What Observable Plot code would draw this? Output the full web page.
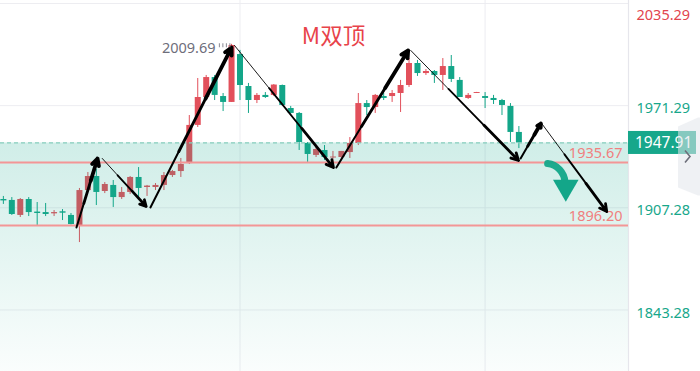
<!DOCTYPE html>
<html><head><meta charset="utf-8">
<script src="https://cdn.jsdelivr.net/npm/d3@7"></script>
<script src="https://cdn.jsdelivr.net/npm/@observablehq/plot@0.6"></script>
<style>
body{margin:0;background:#fff;}
#chart{width:700px;height:371px;}
</style></head><body><div id="chart"></div>
<script>
// ---- data ----
const opens  = [1912.5,1911.9,1902.5,1912.5,1904.6,1904.3,1903.5,1904.8,1902.5,1896.2,
                1918.1,1926.9,1917.5,1921.3,1913.7,1916.9,1926.3,1920.0,1920.0,1921.3,
                1927.5,1930.0,1935.0,1958.9,1976.4,1988.9,1977.0,1973.3,2003.3,1983.3,
                1974.5,1977.7,1977.7,1983.9,1969.5,1966.4,1947.6,1940.1,1943.2,1938.5,
                1938.8,1941.9,1947.6,1972.6,1970.1,1977.0,1977.0,1978.9,1983.9,1997.7,
                1991.4,1992.7,1990.2,1995.8,1987.1,1975.8,1978.9,1977.0,1975.8,1974.5,
                1970.8,1954.5];
const highs  = [1914.4,1913.7,1913.1,1913.7,1910.6,1910.0,1905.6,1906.2,1903.7,1919.4,
                1929.4,1931.3,1923.1,1924.4,1920.0,1926.9,1932.5,1921.3,1922.5,1929.4,
                1930.7,1938.2,1965.1,1988.3,1990.2,1990.2,1978.9,2009.69,2005.9,1985.2,
                1978.9,1979.5,1984.5,1984.2,1970.8,1967.0,1948.2,1945.1,1946.3,1942.6,
                1942.6,1951.3,1978.9,1974.5,1978.3,1978.9,1980.8,1987.1,2000.8,1999.6,
                1993.9,1993.3,2000.8,2002.7,1988.9,1978.9,1979.6,1979.5,1977.7,1975.2,
                1972.6,1958.2];
const lows   = [1909.4,1902.5,1901.2,1901.8,1896.2,1901.8,1901.8,1899.3,1896.5,1885.5,
                1917.5,1908.7,1916.2,1907.5,1912.5,1915.6,1913.7,1914.4,1918.1,1918.1,
                1926.3,1926.3,1934.4,1957.6,1975.2,1974.5,1967.6,1973.3,1974.5,1966.4,
                1972.6,1975.8,1977.0,1971.0,1966.0,1943.2,1935.7,1938.8,1936.9,1935.0,
                1936.9,1938.2,1946.3,1965.1,1966.4,1974.5,1973.3,1967.0,1982.7,1989.6,
                1990.2,1985.2,1980.8,1985.8,1976.4,1975.2,1978.9,1969.5,1972.0,1965.1,
                1948.2,1944.4];
const closes = [1911.6,1903.1,1912.5,1904.3,1903.7,1903.1,1904.3,1903.9,1896.8,1918.1,
                1926.9,1916.9,1921.9,1913.7,1916.9,1926.3,1919.4,1920.9,1921.3,1927.5,
                1930.0,1934.4,1958.9,1976.4,1988.9,1977.7,1973.3,2009.0,1983.9,1974.5,
                1977.7,1976.4,1984.2,1971.4,1966.4,1948.2,1940.7,1943.8,1938.8,1939.0,
                1942.6,1947.6,1972.6,1970.1,1977.7,1975.8,1978.9,1983.9,1997.7,1991.4,
                1992.7,1990.2,1995.8,1987.7,1976.4,1977.7,1979.4,1975.8,1974.5,1971.4,
                1954.5,1947.91];

const axisTicks = [2035.29, 1971.29, 1907.28, 1843.28];
const levels = [1935.67, 1896.20];
const current = 1947.91;
const peak = {i: 27, p: 2009.69, label: "2009.69"};
const gridCandles = [28, 57];
const title = "M双顶";

// hand-drawn pattern arrows
const arrowFromI = [8.65, 11.7, 17.4, 27.35, 39.4, 48.2, 61.2, 63.7];
const arrowFromP = [1894.9, 1938.2, 1907.5, 2009.0, 1932.5, 2005.9, 1938.2, 1960.1];
const arrowToI   = [11.14, 16.9, 27.0, 39.06, 47.9, 60.96, 63.6, 71.4];
const arrowToP   = [1938.2, 1908.1, 2007.7, 1932.5, 2005.9, 1936.9, 1960.1, 1904.9];
const arrowKind  = ["up","down","up","down","up","down","up","down"];
// curved "going down" marker: shaft start, shaft end, head centre
const turnArrow  = {i1: 64.4, p1: 1935.0, i2: 66.45, p2: 1923.5, hi: 66.55, hp: 1920.3};

const xDomain = [-0.34, 73.97];
const yDomain = [1804.72, 2037.17];

// ---- derived tables ----
const RED = "#e2505b", GREEN = "#13a689", TEAL = "#17a78b", SALMON = "#f39696";
const candles = opens.map((o, i) => ({i, o, h: highs[i], l: lows[i], c: closes[i]}));
const col = d => d.c >= d.o ? RED : GREEN;

const segs = [], heads = [];
arrowFromI.forEach((fi, k) => {
  const ax = fi, ay = arrowFromP[k], bx = arrowToI[k], by = arrowToP[k];
  const up = arrowKind[k] === "up";
  const w0 = up ? 2.0 : 0.9, w1 = up ? 3.8 : 2.8;
  const cuts = [0, 0.35, 0.68, 1];
  for (let s = 0; s < 3; s++) {
    const t0 = cuts[s], t1 = cuts[s + 1];
    const w = w0 + (w1 - w0) * (s / 2);
    const seg = {x1: ax + (bx - ax) * t0, y1: ay + (by - ay) * t0,
                 x2: ax + (bx - ax) * t1, y2: ay + (by - ay) * t1, w};
    if (s < 2) segs.push(seg); else heads.push(seg);
  }
});

const chart = Plot.plot({
  width: 700, height: 371,
  marginLeft: 0, marginRight: 72, marginTop: 0, marginBottom: 0,
  x: {type: "linear", domain: xDomain, axis: null},
  y: {domain: yDomain, axis: null},
  style: {fontFamily: "'Noto Sans', 'Noto Sans CJK SC', sans-serif", background: "#fff", overflow: "visible"},
  marks: [
    Plot.ruleY(axisTicks, {stroke: "#ededf1", strokeWidth: 1}),
    Plot.ruleX(gridCandles, {stroke: "#ededf1", strokeWidth: 1}),
    Plot.ruleX([xDomain[1]], {stroke: "#e6e6ec", strokeWidth: 1.2}),
    Plot.ruleX(candles, {x: "i", y1: "l", y2: "h", stroke: col, strokeWidth: 1}),
    Plot.ruleX(candles, {x: "i", y1: "o", y2: d => Math.abs(d.c - d.o) < 0.6 ? d.o + (d.c >= d.o ? 0.6 : -0.6) : d.c, stroke: col, strokeWidth: 6}),
    Plot.rect([0], {x1: () => xDomain[0], x2: () => xDomain[1], y1: () => yDomain[0], y2: () => current, fill: "url(#shadeGrad)"}),
    Plot.ruleY([current], {stroke: "#86cdbd", strokeWidth: 1.2, strokeDasharray: "4,3"}),
    Plot.ruleY(levels, {stroke: SALMON, strokeWidth: 1.8}),
    Plot.text(levels, {y: d => d, text: d => d.toFixed(2), frameAnchor: "right", textAnchor: "end", dx: -6, dy: -9, fill: "#f07f7f", fontSize: 14.5}),
    Plot.link(segs, {x1: "x1", y1: "y1", x2: "x2", y2: "y2", stroke: "#000", strokeWidth: "w", strokeLinecap: "round"}),
    Plot.arrow(heads, {x1: "x1", y1: "y1", x2: "x2", y2: "y2", stroke: "#000", strokeWidth: "w", headLength: 12, headAngle: 55, strokeLinecap: "round"}),
    Plot.arrow([turnArrow], {x1: "i1", y1: "p1", x2: "i2", y2: "p2", bend: 40, stroke: GREEN, strokeWidth: 7, headLength: 0, strokeOpacity: 0.95}),
    Plot.dot([turnArrow], {x: "hi", y: "hp", symbol: "triangle", rotate: 180, r: 9.5, fill: GREEN, stroke: "none"}),
    Plot.text(axisTicks.slice(0, 1), {y: d => d, text: d => d.toFixed(2), frameAnchor: "right", textAnchor: "start", dx: 8, dy: 12, fill: "#e2444e", fontSize: 14.5}),
    Plot.text(axisTicks.slice(1), {y: d => d, text: d => d.toFixed(2), frameAnchor: "right", textAnchor: "start", dx: 8, dy: 3, fill: TEAL, fontSize: 14.5}),
    Plot.text([peak], {x: "i", y: "p", text: "label", textAnchor: "end", dx: -16, dy: 4, fill: "#6e6e7b", fontSize: 14.5}),
    Plot.link([peak], {x1: d => d.i - 1.5, x2: "i", y1: "p", y2: "p", stroke: "#8a8a95", strokeWidth: 4, strokeDasharray: "1,2.5", dy: 1}),
    Plot.text([title], {frameAnchor: "top", lineAnchor: "middle", dx: 19, dy: 36, fill: "#e8434a", fontSize: 22.5, fontFamily: "'Noto Sans CJK SC', 'Noto Sans', sans-serif"})
  ]
});

// gradient for the shaded zone below the current price
const svg = d3.select(chart);
const grad = svg.insert("defs", ":first-child").append("linearGradient")
  .attr("id", "shadeGrad").attr("x1", 0).attr("y1", 0).attr("x2", 0).attr("y2", 1);
grad.append("stop").attr("offset", "0%").attr("stop-color", "rgb(20,168,140)").attr("stop-opacity", 0.2);
grad.append("stop").attr("offset", "100%").attr("stop-color", "rgb(20,168,140)").attr("stop-opacity", 0.02);

// current price tag and side handle
const ys = chart.scale("y");
const plotRight = 700 - 72;
const yc = ys.apply(current);
const tag = svg.append("g");
tag.append("rect").attr("x", plotRight).attr("y", yc - 11.5).attr("width", 68).attr("height", 23).attr("fill", TEAL);
tag.append("text").attr("x", plotRight + 7).attr("y", yc).attr("dy", "0.35em").attr("text-anchor", "start")
  .attr("fill", "#fff").attr("font-size", 15.5).attr("font-family", "'Noto Sans', sans-serif").text(current.toFixed(2));
const hx = 678, hy = yc + 14;
tag.append("path").attr("d", `M${hx},${hy-30} L${hx+20},${hy-39} L${hx+24},${hy-39} L${hx+24},${hy+39} L${hx+20},${hy+39} L${hx},${hy+31} Z`)
  .attr("fill", "rgba(226,229,235,0.55)");
tag.append("path").attr("d", `M${hx+7},${hy-6} L${hx+12},${hy} L${hx+7},${hy+6}`)
  .attr("fill", "none").attr("stroke", "#6d6f7a").attr("stroke-width", 1.6);

document.getElementById("chart").append(chart);
</script></body></html>
